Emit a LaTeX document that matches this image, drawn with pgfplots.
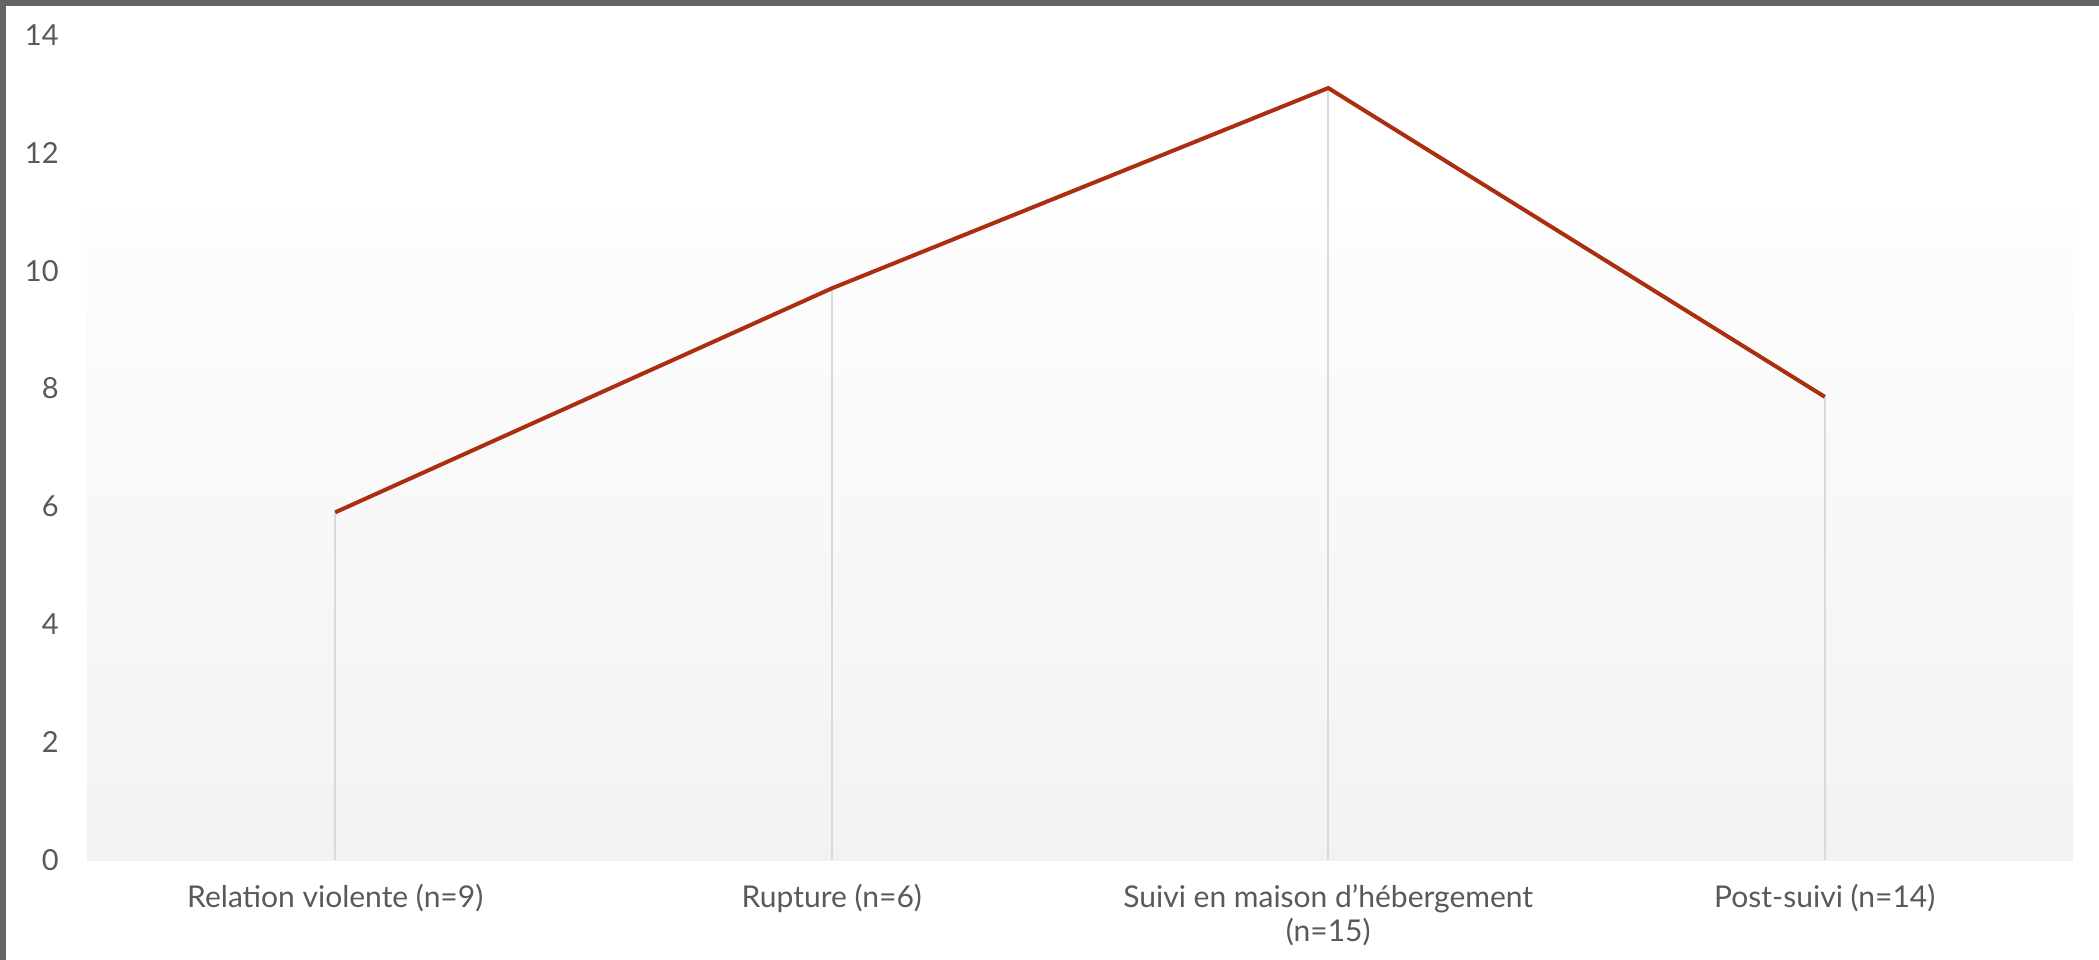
\documentclass[border=0pt]{standalone}
\usepackage{pgfplots}
\pgfplotsset{compat=1.18}
\usepackage{fontspec}
\setmainfont{Lato}
\definecolor{linered}{RGB}{172,46,16}
\definecolor{txtgray}{RGB}{89,89,89}
\definecolor{gridgray}{RGB}{217,217,217}
\definecolor{framegray}{RGB}{100,100,100}
\begin{document}
\begin{tikzpicture}
% page: 2099x960 px at 0.5bp per px; axis box lower-left at px (87,860)
\useasboundingbox (-43.5bp,-50bp) rectangle (1006bp,430bp);
\fill[white] (-43.5bp,-50bp) rectangle (1006bp,430bp);
\fill[framegray] (-43.5bp,427bp) rectangle (1006bp,430bp);
\fill[framegray] (-43.5bp,-50bp) rectangle (-40.5bp,430bp);
\begin{axis}[
  at={(0,0)}, anchor=south west,
  scale only axis,
  width=993bp, height=412.5bp,
  xmin=-0.5, xmax=3.5, ymin=0, ymax=14,
  xtick={0,1,2,3},
  xticklabels={Relation violente (n=9), Rupture (n=6), {Suivi en maison d’hébergement\\(n=15)}, Post-suivi (n=14)},
  ytick={0,2,4,6,8,10,12,14},
  axis x line*=bottom,
  axis y line*=left,
  y axis line style={draw=none},
  x axis line style={draw=gridgray, line width=1bp, -},
  tick style={draw=none},
  /pgf/number format/assume math mode=true,
  yticklabel style={anchor=east, inner sep=0pt, xshift=-14bp, font=\fontsize{14.5bp}{17bp}\selectfont, text=txtgray},
  xticklabel style={anchor=north, inner sep=0pt, yshift=-12bp, align=center, font=\fontsize{15bp}{17bp}\selectfont, text=txtgray},
  clip=false,
]
\fill[top color=white!99.3!black, bottom color=white!95!black] (axis cs:-0.5,0) rectangle (axis cs:3.5,11.03);
\addplot[ycomb, draw=gridgray, line width=1bp, mark=none] coordinates {(0,5.9) (1,9.7) (2,13.1) (3,7.86)};
\addplot[draw=linered, line width=2bp, mark=none] coordinates {(0,5.9) (1,9.7) (2,13.1) (3,7.86)};
\end{axis}
\end{tikzpicture}
\end{document}
